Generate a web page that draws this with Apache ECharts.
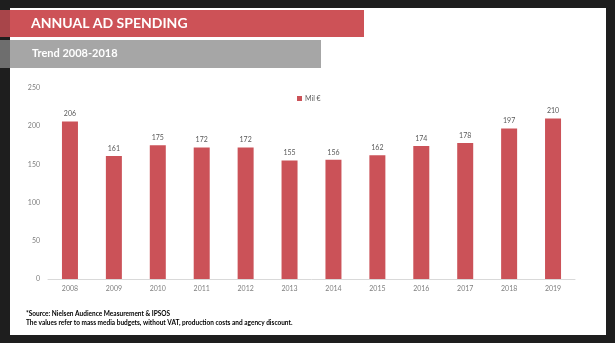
<!DOCTYPE html>
<html><head><meta charset="utf-8">
<script src="https://cdn.jsdelivr.net/npm/echarts@6/dist/echarts.min.js"></script>
<style>html,body{margin:0;padding:0;background:#1e1e1e}#c{width:615px;height:343px}</style>
</head><body><div id="c"></div>
<script>
const years = ['2008','2009','2010','2011','2012','2013','2014','2015','2016','2017','2018','2019'];
const spending = [206,161,175,172,172,155,156,162,174,178,197,210];
const seriesName = 'Mil €';
const titleText = 'ANNUAL AD SPENDING';
const subtitleText = 'Trend 2008-2018';
const noteLines = ['*Source: Nielsen Audience Measurement & IPSOS','The values refer to mass media budgets, without VAT, production costs and agency discount.'];
const yTicks = {min:0, max:250, interval:50};

const chart = echarts.init(document.getElementById('c'), null, {renderer:'canvas'});
const F = 'Lato, "Open Sans", sans-serif';
chart.setOption({
  backgroundColor:'#1e1e1e',
  animation:false,
  graphic:[
    {type:'rect', z:-10, shape:{x:10,y:8,width:596,height:327}, style:{fill:'#ffffff'}},
    {type:'rect', shape:{x:0,y:10,width:364,height:27}, style:{fill:'#cd5257'}},
    {type:'rect', shape:{x:0,y:10,width:10,height:27}, style:{fill:'#a8454a'}},
    {type:'rect', shape:{x:0,y:40,width:321,height:28}, style:{fill:'#a6a6a6'}},
    {type:'rect', shape:{x:0,y:40,width:10,height:28}, style:{fill:'#6e6e6e'}},
    {type:'text', left:31, top:16, style:{text:titleText, fill:'#ffffff', font:'bold 14px '+F}},
    {type:'text', left:32, top:48, style:{text:subtitleText, fill:'#ffffff', font:'bold 11px '+F}},
    {type:'text', left:26, top:310, style:{text:noteLines[0], fill:'#000000', font:'bold 6.5px '+F}},
    {type:'text', left:26, top:319, style:{text:noteLines[1], fill:'#000000', font:'bold 6.5px '+F}}
  ],
  legend:{data:[seriesName], left:297, top:95, padding:0, itemWidth:5, itemHeight:5, itemGap:4,
    textStyle:{fontSize:7, color:'#595959', fontFamily:F, padding:[0,0,0,-2]}, icon:'rect'},
  grid:{left:48, right:40, top:88, bottom:64, containLabel:false},
  xAxis:{type:'category', data:years,
    axisLine:{lineStyle:{color:'#d9d9d9'}}, axisTick:{show:false},
    axisLabel:{fontSize:7, color:'#7f7f7f', margin:6, fontFamily:F}},
  yAxis:{type:'value', min:yTicks.min, max:yTicks.max, interval:yTicks.interval,
    splitLine:{show:false}, axisLine:{show:false}, axisTick:{show:false},
    axisLabel:{fontSize:7, color:'#7f7f7f', margin:8, fontFamily:F}},
  series:[{name:seriesName, type:'bar', data:spending, barWidth:16,
    itemStyle:{color:'#cb5258'},
    label:{show:true, position:'top', distance:4, fontSize:7, color:'#595959', fontFamily:F}}]
});
</script></body></html>
